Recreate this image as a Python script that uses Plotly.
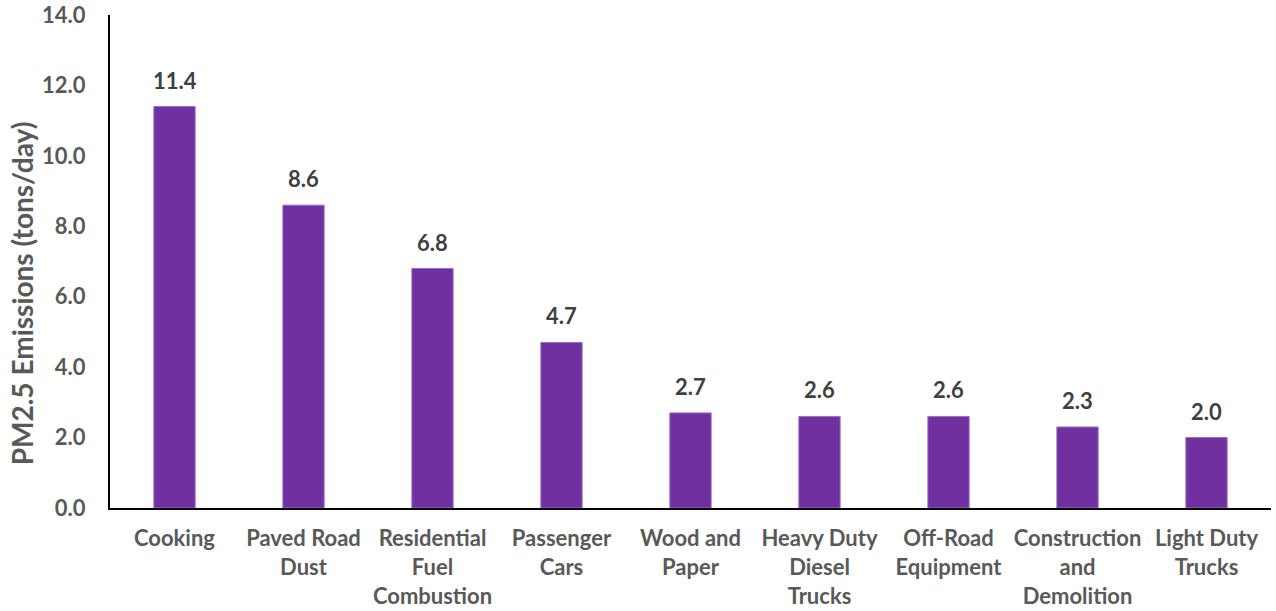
import plotly.graph_objects as go

categories = ["Cooking", "Paved Road<br>Dust", "Residential<br>Fuel<br>Combustion", "Passenger<br>Cars",
              "Wood and<br>Paper", "Heavy Duty<br>Diesel<br>Trucks", "Off-Road<br>Equipment",
              "Construction<br>and<br>Demolition", "Light Duty<br>Trucks"]
values = [11.4, 8.6, 6.8, 4.7, 2.7, 2.6, 2.6, 2.3, 2.0]
y_ticks = [0, 2, 4, 6, 8, 10, 12, 14]
y_title = "PM2.5 Emissions (tons/day)"

FONT = "Lato"
fig = go.Figure()
fig.add_trace(go.Bar(x=categories, y=values, marker=dict(color="#7030A0", line=dict(width=1, color="#9B6CC4")),
                     width=0.32))
for c, v in zip(categories, values):
    fig.add_annotation(x=c, y=v, text=f"<b>{v:.1f}</b>", showarrow=False, yanchor="bottom", yshift=11,
                       font=dict(family=FONT, size=22, color="#404040"))

fig.add_annotation(xref="paper", yref="paper", x=-0.076, y=0.435, text=f"<b>{y_title}</b>",
                   textangle=-90, showarrow=False, xanchor="center", yanchor="middle",
                   font=dict(family=FONT, size=28, color="#595959"))

fig.update_layout(
    width=1276, height=611,
    margin=dict(l=110, r=5, t=15, b=103),
    plot_bgcolor="white", paper_bgcolor="white",
    showlegend=False,
    font=dict(family=FONT, size=22, color="#595959"),
)
fig.update_xaxes(showline=True, linecolor="black", linewidth=2, ticks="", automargin=False,
                 tickfont=dict(family=FONT, size=22, color="#595959", weight="bold"),
                 ticklabelstandoff=10)
fig.update_yaxes(range=[0, 14], tickvals=y_ticks, tickformat=".1f", showgrid=False, zeroline=False,
                 showline=True, linecolor="black", linewidth=2, ticks="", automargin=False,
                 tickfont=dict(family=FONT, size=22, color="#595959", weight="bold"),
                 ticklabelstandoff=18)
fig.write_html("out.html", config={"displayModeBar": False},
               post_script="document.body.style.margin='0';document.body.style.overflow='hidden';")
